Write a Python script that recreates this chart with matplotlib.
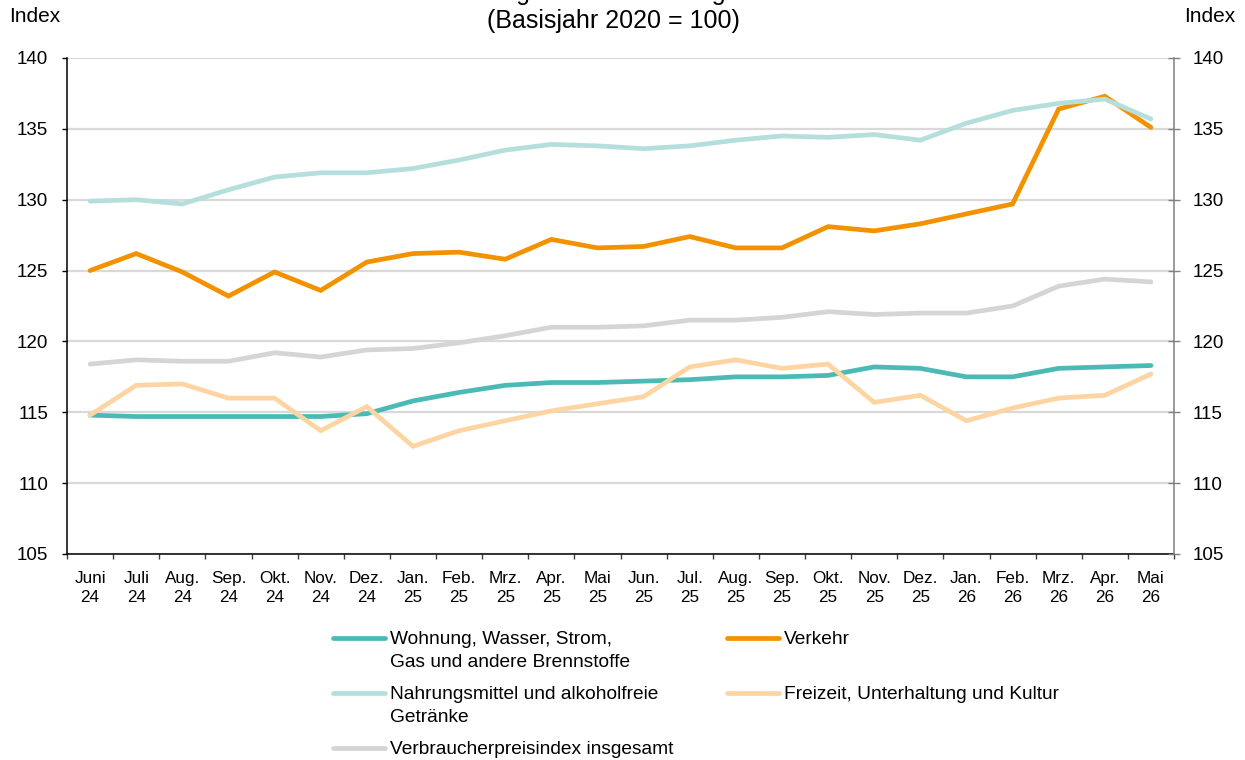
import matplotlib
matplotlib.use("Agg")
import matplotlib.pyplot as plt

plt.rcParams['font.family'] = ['Liberation Sans', 'DejaVu Sans']

months = ["Juni\n24", "Juli\n24", "Aug.\n24", "Sep.\n24", "Okt.\n24", "Nov.\n24", "Dez.\n24",
          "Jan.\n25", "Feb.\n25", "Mrz.\n25", "Apr.\n25", "Mai\n25", "Jun.\n25", "Jul.\n25",
          "Aug.\n25", "Sep.\n25", "Okt.\n25", "Nov.\n25", "Dez.\n25", "Jan.\n26", "Feb.\n26",
          "Mrz.\n26", "Apr.\n26", "Mai\n26"]

wohnung = [114.8, 114.7, 114.7, 114.7, 114.7, 114.7, 114.9, 115.8, 116.4, 116.9, 117.1, 117.1,
           117.2, 117.3, 117.5, 117.5, 117.6, 118.2, 118.1, 117.5, 117.5, 118.1, 118.2, 118.3]
verkehr = [125.0, 126.2, 124.9, 123.2, 124.9, 123.6, 125.6, 126.2, 126.3, 125.8, 127.2, 126.6,
           126.7, 127.4, 126.6, 126.6, 128.1, 127.8, 128.3, 129.0, 129.7, 136.4, 137.3, 135.1]
nahrung = [129.9, 130.0, 129.7, 130.7, 131.6, 131.9, 131.9, 132.2, 132.8, 133.5, 133.9, 133.8,
           133.6, 133.8, 134.2, 134.5, 134.4, 134.6, 134.2, 135.4, 136.3, 136.8, 137.1, 135.7]
freizeit = [114.8, 116.9, 117.0, 116.0, 116.0, 113.7, 115.4, 112.6, 113.7, 114.4, 115.1, 115.6,
            116.1, 118.2, 118.7, 118.1, 118.4, 115.7, 116.2, 114.4, 115.3, 116.0, 116.2, 117.7]
vpi = [118.4, 118.7, 118.6, 118.6, 119.2, 118.9, 119.4, 119.5, 119.9, 120.4, 121.0, 121.0,
       121.1, 121.5, 121.5, 121.7, 122.1, 121.9, 122.0, 122.0, 122.5, 123.9, 124.4, 124.2]

labels = {
    "wohnung": "Wohnung, Wasser, Strom,\nGas und andere Brennstoffe",
    "verkehr": "Verkehr\n ",
    "nahrung": "Nahrungsmittel und alkoholfreie\nGetränke",
    "freizeit": "Freizeit, Unterhaltung und Kultur",
    "vpi": "Verbraucherpreisindex insgesamt",
}
colors = {
    "wohnung": "#4BBAB4",
    "verkehr": "#F39200",
    "nahrung": "#B5DFDC",
    "freizeit": "#FDD5A3",
    "vpi": "#D5D5D5",
}

fig = plt.figure(figsize=(12.45, 7.6), dpi=100)
ax = fig.add_axes([67 / 1245, 1 - 554 / 760, (1174 - 67) / 1245, (554 - 58) / 760])

x = list(range(len(months)))
lw = 3.4
series = [("wohnung", wohnung), ("verkehr", verkehr), ("nahrung", nahrung),
          ("freizeit", freizeit), ("vpi", vpi)]
lines = {}
for key, vals in series:
    ln, = ax.plot(x, vals, color=colors[key], lw=lw, solid_capstyle='round',
                  solid_joinstyle='miter', label=labels[key])
    lines[key] = ln

ax.set_xlim(-0.5, len(months) - 0.5)
ax.set_ylim(105, 140)
ax.set_yticks(range(105, 141, 5))
ax.yaxis.grid(True, color="#D9D9D9", lw=1.6)
ax.set_axisbelow(True)

ax.set_xticks(x)
ax.set_xticklabels(months, fontsize=12.3, linespacing=1.4)
ax.set_xticks([i - 0.5 for i in range(len(months) + 1)], minor=True)
ax.tick_params(axis='x', which='major', length=0, pad=12)
ax.tick_params(axis='x', which='minor', length=3.6, direction='out', color='#404040', width=1)

ax.tick_params(axis='y', which='major', labelsize=13.5, left=True, right=False,
               labelleft=True, labelright=False, length=3.6, width=1, pad=10,
               direction='out', color='#000000')

ax2 = ax.twinx()
ax2.set_ylim(ax.get_ylim())
ax2.set_yticks(ax.get_yticks())
ax2.tick_params(axis='y', which='major', labelsize=13.5, length=8.6, width=1, pad=9.4,
                direction='inout', color='#808080')
for a in (ax, ax2):
    a.spines['top'].set_visible(False)
ax2.spines['left'].set_visible(False)
ax2.spines['bottom'].set_visible(False)
ax.spines['right'].set_visible(False)
ax.spines['left'].set_color('#000000')
ax.spines['bottom'].set_color('#000000')
ax2.spines['right'].set_color('#808080')
ax.spines['left'].set_linewidth(1.1)
ax.spines['bottom'].set_linewidth(1.1)
ax2.spines['right'].set_linewidth(1.1)

# Texts
fig.text(613 / 1245, 1 - 21 / 760, "(Basisjahr 2020 = 100)", ha='center', va='center', fontsize=18)
fig.text(613 / 1245, 1 - (-7) / 760, "Ausgewählte Abteilungen", ha='center', va='center', fontsize=18)
fig.text(9 / 1245, 1 - 17 / 760, "Index", ha='left', va='center', fontsize=15)
fig.text(1235 / 1245, 1 - 17 / 760, "Index", ha='right', va='center', fontsize=15)

order = ["wohnung", "nahrung", "vpi", "verkehr", "freizeit"]
leg = fig.legend([lines[k] for k in order], [labels[k] for k in order],
                 loc='upper left', bbox_to_anchor=(333 / 1245, 1 - 631 / 760),
                 ncol=2, frameon=False, fontsize=13.8, handlelength=2.7,
                 handletextpad=0.26, columnspacing=2.8, labelspacing=0.8,
                 borderpad=0, borderaxespad=0)
for t in leg.get_texts():
    t.set_linespacing(1.44)
# align handles with the first text line
try:
    root = leg.get_children()[0]
    handle_box = root.get_children()[1]
    for col in handle_box.get_children():
        for item in col.get_children():
            item.align = "top"
except Exception:
    pass

fig.savefig("out.png", dpi=100)
